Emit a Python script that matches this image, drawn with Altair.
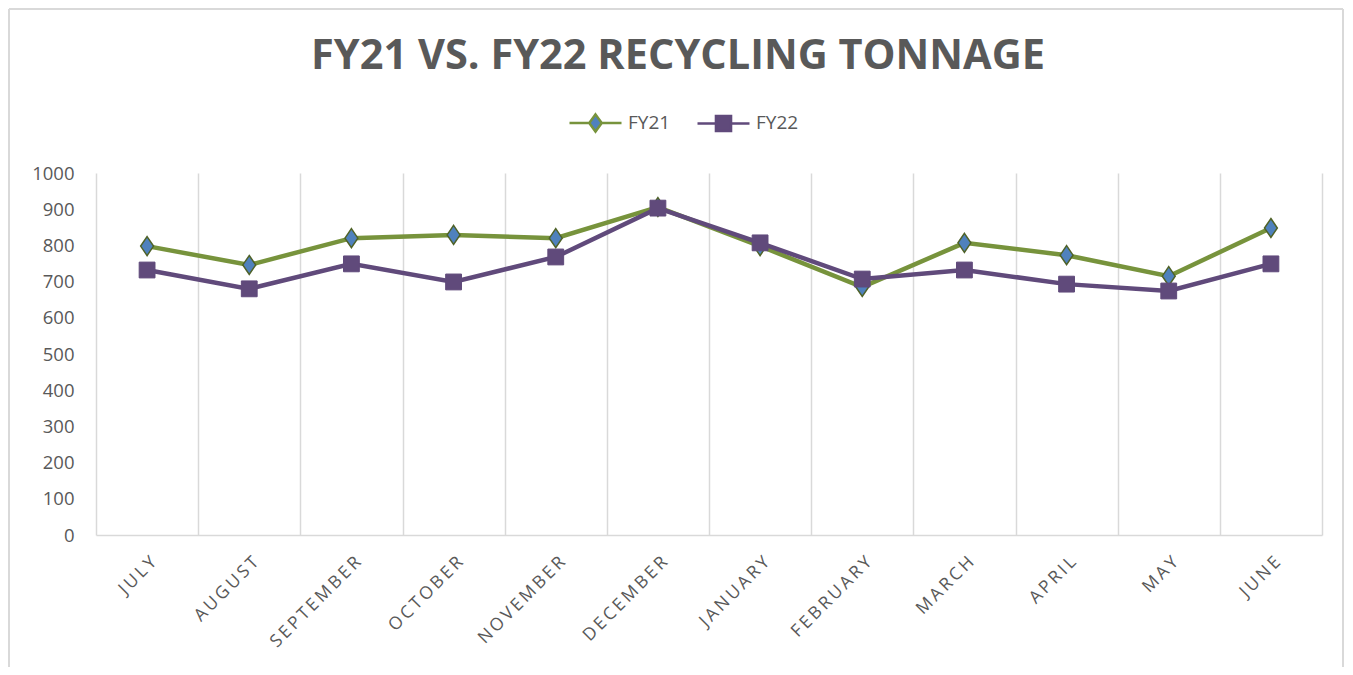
import altair as alt
import pandas as pd

months = ["JULY", "AUGUST", "SEPTEMBER", "OCTOBER", "NOVEMBER", "DECEMBER",
          "JANUARY", "FEBRUARY", "MARCH", "APRIL", "MAY", "JUNE"]
fy21 = [798, 746, 820, 829, 820, 906, 798, 685, 807, 773, 715, 848]
fy22 = [732, 680, 749, 699, 768, 903, 807, 707, 732, 693, 674, 749]
series_names = ["FY21", "FY22"]

rows = []
for m, a, b in zip(months, fy21, fy22):
    rows.append({"month": m, "series": "FY21", "value": a})
    rows.append({"month": m, "series": "FY22", "value": b})
df = pd.DataFrame(rows)

GREEN = "#77933C"
DKGREEN = "#4F6228"
BLUE = "#4F81BD"
PURPLE = "#604A7B"
TEXT = "#595959"
GRID = "#D9D9D9"
FONT = "Open Sans"

W, H = 1226, 362

x_enc = alt.X("month:N", sort=months, bandPosition=0.5,
              scale=alt.Scale(type="band", paddingInner=0, paddingOuter=0),
              axis=alt.Axis(title=None, tickBand="extent", grid=True, gridColor=GRID,
                            gridWidth=1.5, ticks=False, domainColor=GRID, domainWidth=1.5,
                            labelAngle=-45, labelFontSize=17.5, labelColor=TEXT, labelFont=FONT,
                            labelPadding=18,
                            labelExpr="join(split(datum.label, ''), '\u2009')"))
y_enc = alt.Y("value:Q", scale=alt.Scale(domain=[0, 1000]),
              axis=alt.Axis(title=None, values=list(range(0, 1001, 100)), format="d",
                            grid=False, domain=False, ticks=False, labelFontSize=18.5,
                            labelColor=TEXT, labelFont=FONT, labelPadding=22))

base = alt.Chart(df)

diamond = "M0,-1.25L0.85,0L0,1.25L-0.85,0Z"

line21 = base.transform_filter("datum.series == 'FY21'").mark_line(
    color=GREEN, strokeWidth=4.5).encode(x=x_enc, y=y_enc)
pts21 = base.transform_filter("datum.series == 'FY21'").mark_point(
    shape=diamond, filled=True, fill=BLUE, stroke=DKGREEN, strokeWidth=1.5,
    size=230, opacity=1).encode(x=x_enc, y=y_enc)
line22 = base.transform_filter("datum.series == 'FY22'").mark_line(
    color=PURPLE, strokeWidth=4.5).encode(x=x_enc, y=y_enc)
pts22 = base.transform_filter("datum.series == 'FY22'").mark_point(
    shape="square", filled=True, fill=PURPLE, stroke=PURPLE, strokeWidth=1,
    size=250, opacity=1).encode(x=x_enc, y=y_enc)

leg_path21 = "M-1,0L-0.24,0M0.24,0L1,0M0,-0.33L0.24,0L0,0.33L-0.24,0Z"
leg_path22 = "M-1,0L-0.29,0M0.29,0L1,0M-0.29,-0.29L0.29,-0.29L0.29,0.29L-0.29,0.29Z"

leg = alt.Legend(title=None, orient="none", legendX=472, legendY=-78,
                 direction="horizontal", symbolSize=2704, symbolStrokeWidth=2.5,
                 labelFontSize=19, labelColor=TEXT, labelFont=FONT, labelOffset=5,
                 columnPadding=21)

legend_layer = base.transform_filter("false").mark_point(filled=True, opacity=1).encode(
    shape=alt.Shape("series:N", scale=alt.Scale(domain=series_names, range=[leg_path21, leg_path22]), legend=leg),
    fill=alt.Fill("series:N", scale=alt.Scale(domain=series_names, range=[BLUE, PURPLE]), legend=leg),
    stroke=alt.Stroke("series:N", scale=alt.Scale(domain=series_names, range=[GREEN, PURPLE]), legend=leg),
)

one = alt.Chart(pd.DataFrame({"a": [0]}))
frame_left = one.mark_rule(color=GRID, strokeWidth=2).encode(
    x=alt.value(-87), y=alt.value(-164), y2=alt.value(494))
frame_top = one.mark_rule(color=GRID, strokeWidth=2).encode(
    x=alt.value(-87), x2=alt.value(1247), y=alt.value(-164))
frame_right = one.mark_rule(color=GRID, strokeWidth=2).encode(
    x=alt.value(1247), y=alt.value(-164), y2=alt.value(494))

chart = alt.layer(
    frame_left, frame_top, frame_right,
    line21, pts21, line22, pts22, legend_layer
).properties(
    width=W, height=H,
    title=alt.TitleParams("FY21 VS. FY22 RECYCLING TONNAGE", fontSize=41.5, font=FONT,
                          fontWeight="bold", color=TEXT, anchor="middle", dx=-31,
                          baseline="alphabetic", offset=0, dy=102),
    autosize=alt.AutoSizeParams(type="none"),
    padding={"left": 88, "top": 165, "right": 23, "bottom": 132},
).configure_view(stroke=None)

chart.save("out.html", embed_options={"renderer": "svg", "actions": False})
